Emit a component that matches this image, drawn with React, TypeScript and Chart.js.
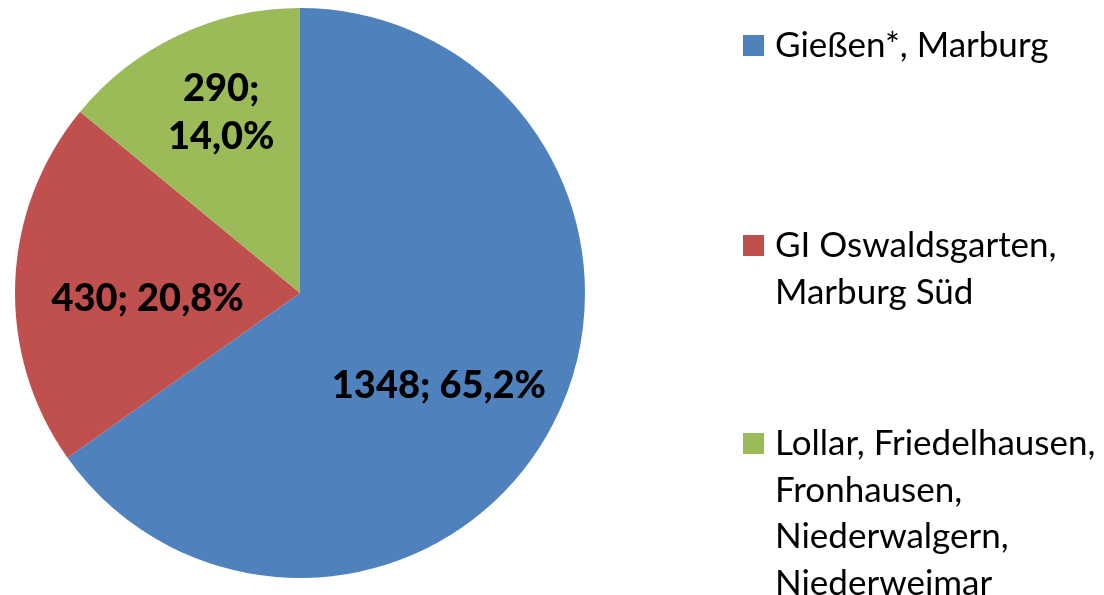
import React, { useEffect, useRef } from "react";
import { Chart, registerables } from "chart.js";

Chart.register(...registerables);

const categories: string[][] = [
  ["Gießen*, Marburg"],
  ["GI Oswaldsgarten,", "Marburg Süd"],
  ["Lollar, Friedelhausen,", "Fronhausen,", "Niederwalgern,", "Niederweimar"],
];
const values: number[] = [1348, 430, 290];
const percentLabels: string[] = ["65,2%", "20,8%", "14,0%"];
const colors: string[] = ["#4F81BD", "#C0504D", "#9BBB59"];

// label placement: radial fraction, angle offset (deg), split into two lines?
const labelRadius = [0.58, 0.535, 0.7];
const labelAngleOffset = [5.5, -3, 2];
const labelSplit = [false, false, true];

const FONT = "Lato, 'Open Sans', sans-serif";

const overlayPlugin = {
  id: "overlay",
  afterDatasetsDraw(chart: any) {
    const ctx = chart.ctx;
    const meta = chart.getDatasetMeta(0);
    ctx.save();
    ctx.fillStyle = "#000";
    ctx.font = `900 38px ${FONT}`;
    ctx.textAlign = "center";
    ctx.textBaseline = "middle";
    meta.data.forEach((arc: any, i: number) => {
      const p = arc.getProps(["x", "y", "startAngle", "endAngle", "outerRadius"], true);
      const mid = (p.startAngle + p.endAngle) / 2 + (labelAngleOffset[i] * Math.PI) / 180;
      const r = p.outerRadius * labelRadius[i];
      const cx = p.x + Math.cos(mid) * r;
      const cy = p.y + Math.sin(mid) * r + 3;
      const a = `${values[i]};`;
      const b = percentLabels[i];
      if (labelSplit[i]) {
        ctx.fillText(a, cx, cy - 24);
        ctx.fillText(b, cx, cy + 24);
      } else {
        ctx.fillText(`${a} ${b}`, cx, cy);
      }
    });
    // legend
    ctx.textAlign = "left";
    ctx.textBaseline = "alphabetic";
    ctx.font = `35px ${FONT}`;
    const lineH = 46.5;
    const firstBaselines = [57, 257, 455];
    categories.forEach((lines, i) => {
      const base = firstBaselines[i];
      ctx.fillStyle = colors[i];
      ctx.fillRect(743, base - 22, 21, 21);
      ctx.fillStyle = "#000";
      lines.forEach((t, j) => ctx.fillText(t, 775, base + j * lineH));
    });
    ctx.restore();
  },
};

export default function App() {
  const ref = useRef<HTMLCanvasElement | null>(null);
  useEffect(() => {
    if (!ref.current) return;
    const chart = new Chart(ref.current, {
      type: "pie",
      data: {
        labels: categories.map((c) => c.join(" ")),
        datasets: [
          {
            data: values,
            backgroundColor: colors,
            borderWidth: 0,
          },
        ],
      },
      options: {
        animation: false,
        responsive: false,
        maintainAspectRatio: false,
        layout: { padding: { left: 15, right: 519, top: 8, bottom: 17 } },
        plugins: { legend: { display: false }, tooltip: { enabled: false } },
      },
      plugins: [overlayPlugin],
    });
    return () => chart.destroy();
  }, []);
  return (
    <div style={{ position: "fixed", left: 0, top: 0, width: 1104, height: 595, background: "#fff" }}>
      <canvas ref={ref} width={1104} height={595} style={{ width: 1104, height: 595 }} />
    </div>
  );
}
